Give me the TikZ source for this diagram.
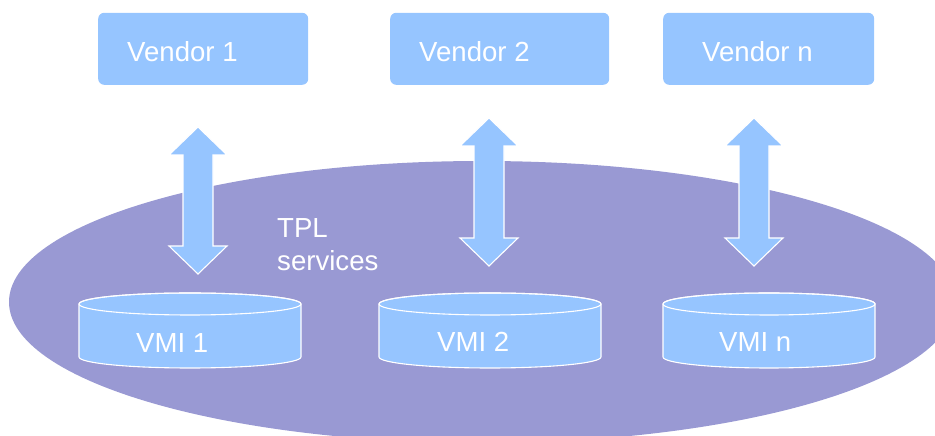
\documentclass[tikz,border=0pt]{standalone}
\usepackage{fontspec}
\setmainfont{Liberation Sans}
\definecolor{boxblue}{RGB}{150,197,255}
\definecolor{poolpurple}{RGB}{153,153,211}

% double-headed block arrow: centre x, top y, total length
\newcommand{\blockarrow}[3]{%
  \path[blockarr]
    (#1,#2) -- ++(29,-28) -- ++(-14,0) -- ++(0,-#3+56) -- ++(14,0)
    -- ++(-29,-28) -- ++(-29,28) -- ++(14,0) -- ++(0,#3-56) -- ++(-14,0) -- cycle;}

% flat storage cylinder: left x, right x, top-ellipse centre y, body height
\newcommand{\storecyl}[4]{%
  \pgfmathsetmacro{\cylrx}{(#2-#1)/2}%
  \pgfmathsetmacro{\cylcx}{(#2+#1)/2}%
  \path[cylbody] (#1,#3) -- (#1,#3-#4)
    arc[start angle=180,end angle=360,x radius=\cylrx pt,y radius=11pt]
    -- (#2,#3)
    arc[start angle=0,end angle=180,x radius=\cylrx pt,y radius=11pt] -- cycle;
  \draw[white,line width=1.1pt] (\cylcx,#3) ellipse[x radius=\cylrx pt,y radius=11pt];}

\begin{document}
\begin{tikzpicture}[x=1pt,y=1pt,
  vendorbox/.style={fill=boxblue,rounded corners=6pt,draw=none,
    minimum width=#1,minimum height=72pt,inner sep=0pt,anchor=south west},
  lbl/.style={text=white,font=\fontsize{27.6}{33}\selectfont,inner sep=0pt,anchor=base west},
  blockarr/.style={fill=boxblue,draw=white,line width=1.1pt,line join=miter},
  cylbody/.style={fill=boxblue,draw=white,line width=1.1pt}]
\useasboundingbox (0,0) rectangle (935,436);

% TPL service pool
\fill[poolpurple] (482,134) ellipse[x radius=473pt,y radius=141pt];

% vendors
\node[vendorbox=210pt] (v1) at (98,351) {};
\node[vendorbox=219pt] (v2) at (390,351) {};
\node[vendorbox=211pt] (vn) at (663,351) {};
\node[lbl] (v1t) at (127,374) {Vendor 1};
\node[lbl] (v2t) at (419,374) {Vendor 2};
\node[lbl] (vnt) at (702,374) {Vendor n};

% exchange arrows
\blockarrow{198}{309}{147}
\blockarrow{489}{318}{148}
\blockarrow{754}{318}{148}

% VMI stores
\storecyl{79}{301}{132}{53}
\storecyl{379}{601}{132}{53}
\storecyl{663}{875}{132}{53}
\node[lbl] (m1) at (136,83) {VMI 1};
\node[lbl] (m2) at (437,84) {VMI 2};
\node[lbl] (mn) at (719,84) {VMI n};

% pool label
\node[lbl] (tpl1) at (277,198) {TPL};
\node[lbl] (tpl2) at (277,165) {services};
\end{tikzpicture}
\end{document}
